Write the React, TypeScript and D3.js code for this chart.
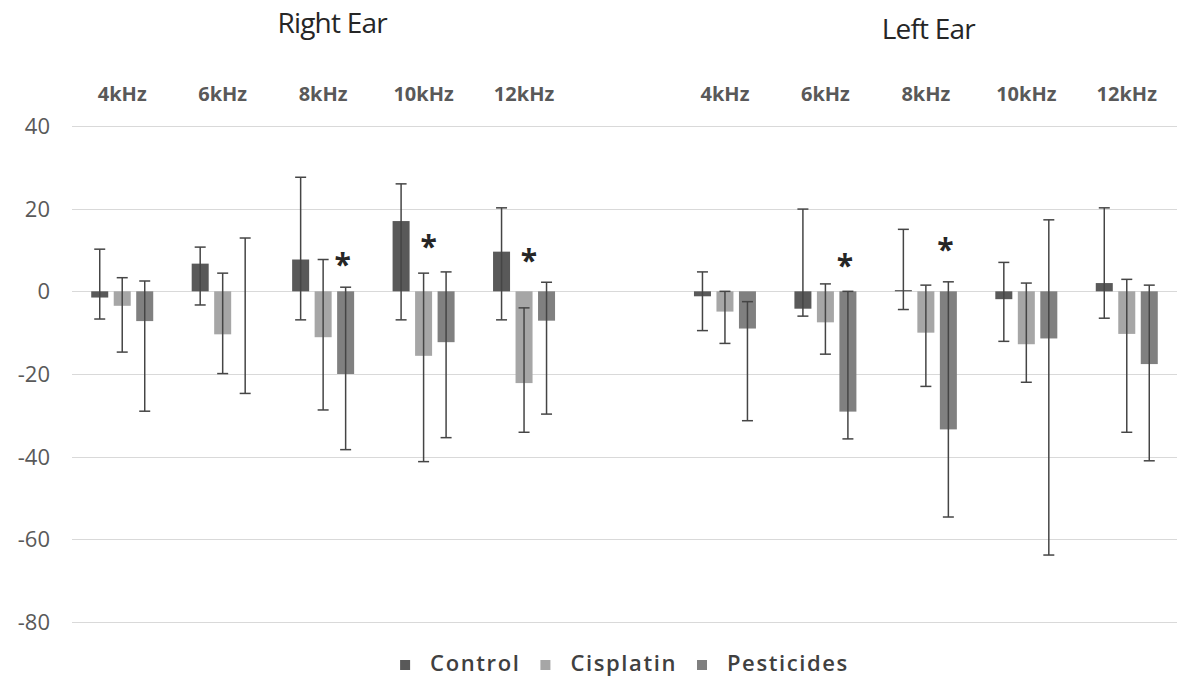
import React, { useEffect, useRef } from "react";
import * as d3 from "d3";

// ---------- data ----------
const ears = ["Right Ear", "Left Ear"];
const freqs = ["4kHz", "6kHz", "8kHz", "10kHz", "12kHz"];
const seriesNames = ["Control", "Cisplatin", "Pesticides"];
const seriesColors = ["#595959", "#a6a6a6", "#808080"];
const yTicks = [40, 20, 0, -20, -40, -60, -80];

// [frequency][series]
const rightMeans = [[-1.5, -3.5, -7.2], [6.7, -10.4, 0], [7.7, -11.1, -20], [17, -15.6, -12.3], [9.6, -22.2, -7.1]];
const rightHigh = [[10.2, 3.3, 2.5], [10.7, 4.4, 12.9], [27.6, 7.7, 1.0], [26, 4.4, 4.7], [20.2, -4.0, 2.2]];
const rightLow = [[-6.7, -14.7, -29], [-3.3, -19.9, -24.7], [-6.9, -28.7, -38.3], [-6.9, -41.2, -35.4], [-6.9, -34.1, -29.7]];

const leftMeans = [[-1.2, -4.9, -9], [-4.2, -7.5, -29.1], [0.3, -10, -33.4], [-1.9, -12.8, -11.4], [2, -10.3, -17.6]];
const leftHigh = [[4.7, 0, -2.5], [19.9, 1.8, 0], [15, 1.5, 2.3], [7, 2, 17.3], [20.2, 2.9, 1.5]];
const leftLow = [[-9.5, -12.6, -31.3], [-6, -15.2, -35.7], [-4.4, -23, -54.6], [-12.1, -22, -63.8], [-6.5, -34.1, -41]];

// significance markers: ear index, frequency index, series index, level
const starEar = [0, 0, 0, 1, 1];
const starFreq = [2, 3, 4, 1, 2];
const starSeries = [2, 1, 1, 2, 2];
const starLevel = [7.1, 11.5, 8.1, 6.8, 10.8];

const W = 1184;
const H = 678;
const FONT = "'Open Sans', 'Noto Sans', sans-serif";

export default function App() {
  const ref = useRef<SVGSVGElement | null>(null);

  useEffect(() => {
    const svg = d3.select(ref.current);
    svg.selectAll("*").remove();

    const slots = [
      ...freqs.map((f) => "R|" + f),
      "gap",
      ...freqs.map((f) => "L|" + f),
    ];
    const x = d3.scaleBand<string>().domain(slots).range([72, 1177]).padding(0);
    const y = d3.scaleLinear().domain([-80, 40]).range([622, 126]);
    const inner = d3
      .scaleBand<string>()
      .domain(seriesNames)
      .range([-31, 31])
      .paddingInner(0.244)
      .paddingOuter(0);

    // gridlines
    const g = svg.append("g");
    g.selectAll("line.grid")
      .data(yTicks)
      .join("line")
      .attr("class", "grid")
      .attr("x1", 72)
      .attr("x2", 1177)
      .attr("y1", (d) => Math.round(y(d)) + 0.5)
      .attr("y2", (d) => Math.round(y(d)) + 0.5)
      .attr("stroke", "#d9d9d9")
      .attr("stroke-width", 1);

    // y tick labels
    g.selectAll("text.ytick")
      .data(yTicks)
      .join("text")
      .attr("class", "ytick")
      .attr("x", 50)
      .attr("y", (d) => y(d))
      .attr("dy", "0.36em")
      .attr("text-anchor", "end")
      .attr("font-family", FONT)
      .attr("font-size", 22)
      .attr("fill", "#595959")
      .text((d) => String(d));

    const earData = [
      { prefix: "R|", means: rightMeans, hi: rightHigh, lo: rightLow },
      { prefix: "L|", means: leftMeans, hi: leftHigh, lo: leftLow },
    ];

    // ear titles
    earData.forEach((e, ei) => {
      const first = x(e.prefix + freqs[0])!;
      const last = x(e.prefix + freqs[freqs.length - 1])! + x.bandwidth();
      svg
        .append("text")
        .attr("x", (first + last) / 2 + (ei === 0 ? 9 : 2.5))
        .attr("y", ei === 0 ? 33 : 39)
        .attr("text-anchor", "middle")
        .attr("font-family", FONT)
        .attr("font-size", 28)
        .attr("letter-spacing", -0.8)
        .attr("fill", "#262626")
        .text(ears[ei]);
    });

    // frequency labels
    earData.forEach((e) => {
      svg
        .append("g")
        .selectAll("text")
        .data(freqs)
        .join("text")
        .attr("x", (f) => x(e.prefix + f)! + x.bandwidth() / 2)
        .attr("y", 101)
        .attr("text-anchor", "middle")
        .attr("font-family", FONT)
        .attr("font-weight", 700)
        .attr("font-size", 20)
        .attr("fill", "#595959")
        .text((f) => f);
    });

    // bars and error bars
    earData.forEach((e) => {
      freqs.forEach((f, fi) => {
        const cx = x(e.prefix + f)! + x.bandwidth() / 2;
        seriesNames.forEach((s, si) => {
          const v = e.means[fi][si];
          const bx = cx + inner(s)!;
          const bw = inner.bandwidth();
          svg
            .append("rect")
            .attr("x", bx)
            .attr("width", bw)
            .attr("y", Math.min(y(v), y(0)))
            .attr("height", Math.abs(y(v) - y(0)))
            .attr("fill", seriesColors[si]);
          const ex = bx + bw / 2;
          const hi = e.hi[fi][si];
          const lo = e.lo[fi][si];
          const eg = svg.append("g").attr("stroke", "#454545").attr("stroke-width", 1.5);
          eg.append("line").attr("x1", ex).attr("x2", ex).attr("y1", y(hi)).attr("y2", y(lo));
          [hi, lo].forEach((val) => {
            eg.append("line")
              .attr("x1", ex - 5.5)
              .attr("x2", ex + 5.5)
              .attr("y1", y(val))
              .attr("y2", y(val));
          });
        });
      });
    });

    // stars
    starEar.forEach((ei, k) => {
      const e = earData[ei];
      const cx = x(e.prefix + freqs[starFreq[k]])! + x.bandwidth() / 2;
      const sx = cx + inner(seriesNames[starSeries[k]])! + inner.bandwidth() / 2;
      svg
        .append("text")
        .attr("x", sx + (starSeries[k] === 1 ? 5 : -3))
        .attr("y", y(starLevel[k]) + 13)
        .attr("text-anchor", "middle")
        .attr("font-family", FONT)
        .attr("font-weight", 700)
        .attr("font-size", 30)
        .attr("fill", "#262626")
        .text("*");
    });

    // legend
    const lg = svg.append("g");
    let cursor = 0;
    const items: { sx: number; tx: number }[] = [];
    const texts: any[] = [];
    seriesNames.forEach((s, si) => {
      const t = lg
        .append("text")
        .attr("y", 671)
        .attr("font-family", FONT)
        .attr("font-size", 22)
        .attr("font-weight", 600)
        .attr("letter-spacing", 1.6)
        .attr("fill", "#404040")
        .text(s);
      const len = (t.node() as SVGTextElement).getComputedTextLength();
      items.push({ sx: cursor, tx: cursor + 30 });
      texts.push(t);
      lg.append("rect")
        .attr("class", "lsq")
        .attr("y", 660)
        .attr("width", 10)
        .attr("height", 10)
        .attr("fill", seriesColors[si]);
      cursor += 30 + len + 20;
    });
    const total = cursor - 20;
    const start = 624.5 - total / 2;
    lg.selectAll("rect.lsq").attr("x", (_d, i) => start + items[i].sx);
    texts.forEach((t, i) => t.attr("x", start + items[i].tx));
  }, []);

  return (
    <svg
      ref={ref}
      width={W}
      height={H}
      style={{ position: "absolute", left: 0, top: 0, background: "#fff" }}
    />
  );
}
